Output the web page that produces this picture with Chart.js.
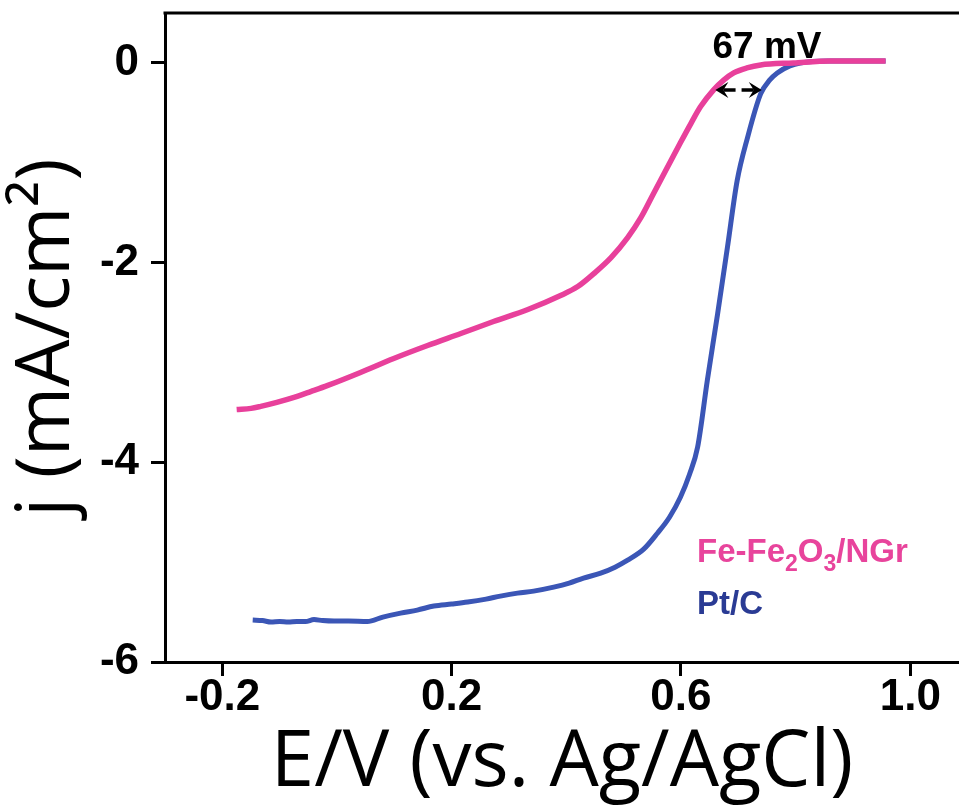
<!DOCTYPE html>
<html lang="en">
<head>
<meta charset="UTF-8">
<title>ORR polarization curves</title>
<script src="https://cdn.jsdelivr.net/npm/chart.js"></script>
<style>
  html, body { margin: 0; padding: 0; background: #fff; overflow: hidden; }
  .wrap { width: 959px; height: 811px; position: relative; }
</style>
</head>
<body>
<div class="wrap"><canvas id="lsv"></canvas></div>
<script>
// potential (V vs. Ag/AgCl) and current density (mA/cm2)
const feE = [-0.175, -0.150, -0.133, -0.105, -0.075, -0.045, -0.016, 0.041, 0.099, 0.158, 0.216, 0.273,
             0.333, 0.390, 0.420, 0.448, 0.478, 0.507, 0.530, 0.552, 0.575, 0.599, 0.618, 0.634,
             0.657, 0.675, 0.692, 0.715, 0.739, 0.796, 0.861, 0.957];
const feJ = [-3.47, -3.46, -3.44, -3.40, -3.35, -3.29, -3.23, -3.10, -2.96, -2.83, -2.71, -2.59,
             -2.47, -2.33, -2.24, -2.11, -1.95, -1.75, -1.55, -1.31, -1.06, -0.80, -0.60, -0.44,
             -0.27, -0.17, -0.10, -0.05, -0.02, 0.00, 0.02, 0.02];

const ptE = [-0.147, -0.130, -0.115, -0.100, -0.085, -0.070, -0.055, -0.040, -0.025, -0.005, 0.020, 0.053,
             0.080, 0.111, 0.140, 0.169, 0.200, 0.228, 0.260, 0.285, 0.315, 0.343, 0.378, 0.405,
             0.430, 0.460, 0.485, 0.507, 0.535, 0.559, 0.580, 0.599, 0.615, 0.629, 0.646, 0.664,
             0.681, 0.698, 0.716, 0.739, 0.755, 0.768, 0.790, 0.808, 0.855, 0.957];
const ptJ = [-5.58, -5.585, -5.60, -5.595, -5.60, -5.595, -5.595, -5.575, -5.585, -5.59, -5.59, -5.595,
             -5.55, -5.51, -5.48, -5.44, -5.42, -5.40, -5.37, -5.34, -5.31, -5.29, -5.25, -5.21,
             -5.16, -5.11, -5.05, -4.98, -4.87, -4.71, -4.55, -4.35, -4.12, -3.85, -3.18, -2.51,
             -1.85, -1.18, -0.75, -0.31, -0.17, -0.10, -0.03, 0.00, 0.02, 0.02];

const seriesLabels = ['Fe-Fe2O3/NGr', 'Pt/C'];
const lineColors = ['#e8409b', '#3b56b6'];
const labelColors = ['#e8449c', '#2a3b94'];

const xTicks = [-0.2, 0.2, 0.6, 1.0];
const yTicks = [-6, -4, -2, 0];

// onset shift between the two curves
const shiftMV = 67;
const shiftMid = 0.7005;
const shiftJ = -0.27;

const tickFont = "'Liberation Sans', Arial, sans-serif";
const titleFont = "'Open Sans', 'Noto Sans', sans-serif";

function toPoints(xs, ys) {
    return xs.map((v, i) => ({x: v, y: ys[i]}));
}

// draws a label, digits that follow a letter become subscripts
function drawFormula(ctx, text, x, y, size) {
    let cx = x;
    for (let i = 0; i < text.length; i++) {
        const ch = text[i];
        const sub = /\d/.test(ch) && i > 0 && /[A-Za-z]/.test(text[i - 1]);
        ctx.font = `bold ${sub ? Math.round(size * 0.7) : size}px ${tickFont}`;
        ctx.fillText(ch, cx, sub ? y + size * 0.28 : y);
        cx += ctx.measureText(ch).width;
    }
}

function drawArrowHead(ctx, tipX, tipY, dir) {
    ctx.beginPath();
    ctx.moveTo(tipX, tipY);
    ctx.lineTo(tipX - dir * 13, tipY - 8);
    ctx.lineTo(tipX - dir * 8, tipY);
    ctx.lineTo(tipX - dir * 13, tipY + 8);
    ctx.closePath();
    ctx.fill();
}

const extras = {
    id: 'extras',
    afterDatasetsDraw(chart) {
        const {ctx, chartArea, scales: {x, y}} = chart;
        ctx.save();

        // top frame line
        ctx.strokeStyle = '#000';
        ctx.lineWidth = 3;
        ctx.beginPath();
        ctx.moveTo(chartArea.left - 1.5, chartArea.top);
        ctx.lineTo(chartArea.right, chartArea.top);
        ctx.stroke();

        // series labels
        ctx.textAlign = 'left';
        ctx.textBaseline = 'alphabetic';
        const lx = x.getPixelForValue(0.628);
        const ly = y.getPixelForValue(-5.0);
        seriesLabels.forEach((lab, i) => {
            ctx.fillStyle = labelColors[i];
            drawFormula(ctx, lab, lx, ly + i * 52, 33);
        });

        // double arrow marking the shift
        const half = shiftMV / 1000 / 2;
        const ax0 = x.getPixelForValue(shiftMid - half) - 4;
        const ax1 = x.getPixelForValue(shiftMid + half) + 4;
        const ay = y.getPixelForValue(shiftJ);
        const mid = (ax0 + ax1) / 2;
        ctx.fillStyle = '#000';
        ctx.strokeStyle = '#000';
        ctx.lineWidth = 3.5;
        ctx.beginPath();
        ctx.moveTo(ax0 + 8, ay);
        ctx.lineTo(mid - 3, ay);
        ctx.moveTo(mid + 3, ay);
        ctx.lineTo(ax1 - 8, ay);
        ctx.stroke();
        drawArrowHead(ctx, ax0, ay, -1);
        drawArrowHead(ctx, ax1, ay, 1);

        ctx.font = `bold 37px ${tickFont}`;
        ctx.textAlign = 'left';
        ctx.fillText(`${shiftMV} mV`, x.getPixelForValue(0.655), y.getPixelForValue(0.05));
        ctx.restore();
    }
};

new Chart(document.getElementById('lsv'), {
    type: 'line',
    data: {
        datasets: [
            {
                label: seriesLabels[0],
                data: toPoints(feE, feJ),
                borderColor: lineColors[0],
                borderWidth: 5.5,
                pointRadius: 0,
                cubicInterpolationMode: 'monotone'
            },
            {
                label: seriesLabels[1],
                data: toPoints(ptE, ptJ),
                borderColor: lineColors[1],
                borderWidth: 5,
                pointRadius: 0,
                cubicInterpolationMode: 'monotone'
            }
        ]
    },
    options: {
        responsive: true,
        maintainAspectRatio: false,
        animation: false,
        layout: {padding: {top: 13, right: 0, left: 0, bottom: 0}},
        plugins: {legend: {display: false}, tooltip: {enabled: false}},
        scales: {
            x: {
                type: 'linear',
                min: -0.3,
                max: 1.085,
                afterFit(s) { s.height = 149; s.paddingLeft = 0; s.paddingRight = 0; },
                afterBuildTicks(s) { s.ticks = xTicks.map(v => ({value: v})); },
                border: {display: true, color: '#000', width: 3},
                grid: {drawOnChartArea: false, drawTicks: true, tickLength: 14, color: '#000', lineWidth: 3},
                ticks: {
                    color: '#000',
                    padding: -5,
                    maxRotation: 0,
                    font: {family: tickFont, size: 44, weight: 'bold'},
                    callback: v => v.toFixed(1)
                },
                title: {
                    display: true,
                    text: 'E/V (vs. Ag/AgCl)',
                    color: '#000',
                    font: {family: titleFont, size: 78},
                    padding: {top: 0, bottom: 0}
                }
            },
            y: {
                min: -6,
                max: 0.5,
                afterFit(s) { s.width = 165; s.paddingTop = 0; s.paddingBottom = 0; },
                afterBuildTicks(s) { s.ticks = yTicks.map(v => ({value: v})); },
                border: {display: true, color: '#000', width: 3},
                grid: {drawOnChartArea: false, drawTicks: true, tickLength: 14, color: '#000', lineWidth: 3},
                ticks: {
                    color: '#000',
                    padding: 12,
                    font: {family: tickFont, size: 44, weight: 'bold'},
                    callback: v => String(v)
                },
                title: {
                    display: true,
                    text: 'j (mA/cm²)',
                    color: '#000',
                    font: {family: titleFont, size: 75},
                    padding: {top: 3, bottom: 0}
                }
            }
        }
    },
    plugins: [extras]
});
</script>
</body>
</html>
